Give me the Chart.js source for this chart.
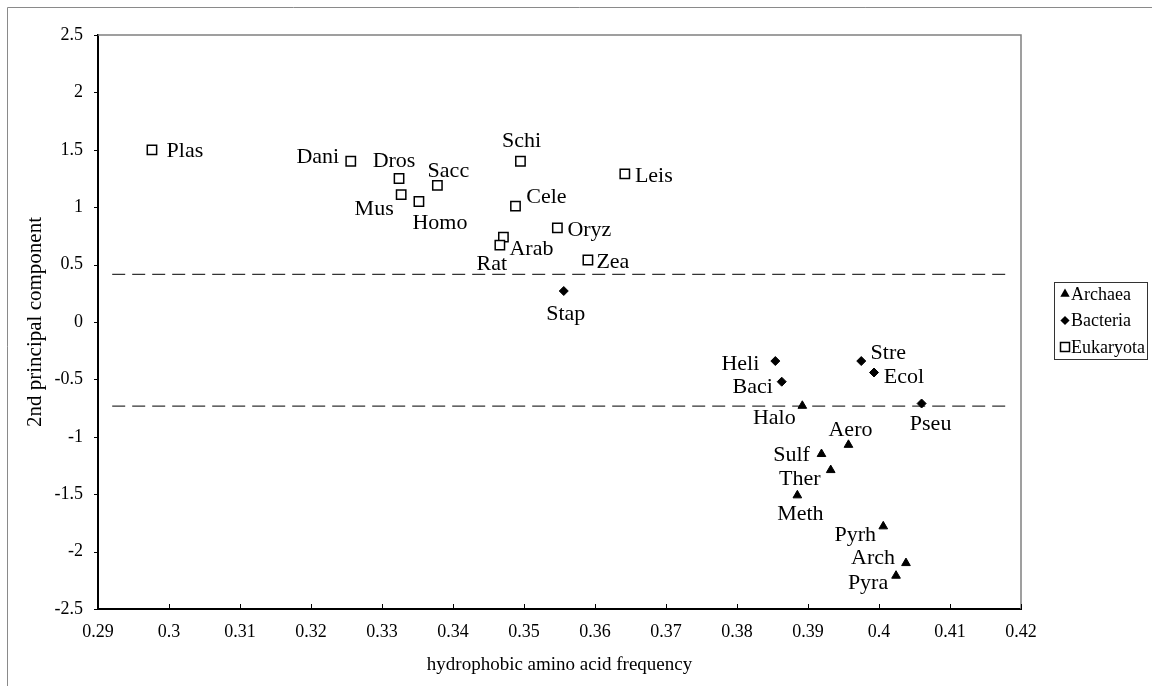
<!DOCTYPE html>
<html>
<head>
<meta charset="utf-8">
<title>Hydrophobic amino acid frequency vs 2nd principal component</title>
<script src="https://cdn.jsdelivr.net/npm/chart.js@4.4.1/dist/chart.umd.min.js"></script>
<style>
  html, body { margin: 0; padding: 0; background: #fff; }
  #wrap { width: 1152px; height: 686px; }
</style>
</head>
<body>
<div id="wrap"><canvas id="chart" width="1152" height="686"></canvas></div>
<script>
// ---- data -------------------------------------------------------------
const archaeaNames = ['Halo', 'Aero', 'Sulf', 'Ther', 'Meth', 'Pyrh', 'Arch', 'Pyra'];
const archaeaX = [0.3892, 0.3957, 0.3919, 0.3932, 0.3885, 0.4006, 0.4038, 0.4024];
const archaeaY = [-0.73, -1.07, -1.15, -1.29, -1.51, -1.78, -2.10, -2.21];

const bacteriaNames = ['Stap', 'Heli', 'Baci', 'Stre', 'Ecol', 'Pseu'];
const bacteriaX = [0.3556, 0.3854, 0.3863, 0.3975, 0.3993, 0.4060];
const bacteriaY = [0.27, -0.34, -0.52, -0.34, -0.44, -0.71];

const eukaryotaNames = ['Plas', 'Dani', 'Dros', 'Mus', 'Homo', 'Sacc', 'Schi', 'Cele', 'Leis', 'Oryz', 'Arab', 'Rat', 'Zea'];
const eukaryotaX = [0.2976, 0.3256, 0.3324, 0.3327, 0.3352, 0.3378, 0.3495, 0.3488, 0.3642, 0.3547, 0.3471, 0.3466, 0.3590];
const eukaryotaY = [1.50, 1.40, 1.25, 1.11, 1.05, 1.19, 1.40, 1.01, 1.29, 0.82, 0.74, 0.67, 0.54];

// dashed separator lines (x range and level)
const separatorX = [0.292, 0.418];
const upperSeparatorY = 0.415;
const lowerSeparatorY = -0.732;

// axis ranges and steps
const xMin = 0.29, xMax = 0.42, xStep = 0.01;
const yMin = -2.5, yMax = 2.5, yStep = 0.5;

// ---- label placement (offset of text centre from the marker, px) -------
const labelOffset = {
  Plas: [33, 0],   Dani: [-33, -6], Dros: [-5, -19], Mus: [-27, 13],
  Homo: [21, 20],  Sacc: [11, -16], Schi: [1, -22],  Cele: [31, -10],
  Leis: [29, 1],   Oryz: [32, 1],   Arab: [28, 11],  Rat: [-8, 18],
  Zea: [25, 1],    Stap: [2, 22],   Heli: [-35, 2],  Baci: [-29, 4],
  Stre: [27, -9],  Ecol: [30, 3],   Pseu: [9, 19],   Halo: [-28, 11],
  Aero: [2, -16],  Sulf: [-30, 0],  Ther: [-31, 8],  Meth: [3, 17],
  Pyrh: [-28, 7],  Arch: [-33, -6], Pyra: [-28, 6]
};

const SERIF = '"Liberation Serif", "Times New Roman", Times, serif';

function points(xs, ys, names) {
  return xs.map((x, i) => ({ x: x, y: ys[i], name: names[i] }));
}

function fmt(v) {
  return String(+Number(v).toFixed(2));
}

// ---- marker drawing for the legend ------------------------------------
function drawMarker(ctx, kind, x, y) {
  ctx.save();
  ctx.lineWidth = 1.2;
  ctx.strokeStyle = '#000';
  ctx.fillStyle = '#000';
  ctx.beginPath();
  if (kind === 'triangle') {
    const r = 5.4;
    ctx.moveTo(x, y - r);
    ctx.lineTo(x + r * Math.sin(2 * Math.PI / 3), y + r / 2);
    ctx.lineTo(x - r * Math.sin(2 * Math.PI / 3), y + r / 2);
    ctx.closePath();
    ctx.fill();
  } else if (kind === 'diamond') {
    const r = 4.6;
    ctx.moveTo(x, y - r);
    ctx.lineTo(x + r, y);
    ctx.lineTo(x, y + r);
    ctx.lineTo(x - r, y);
    ctx.closePath();
    ctx.fill();
  } else {
    ctx.fillStyle = '#fff';
    ctx.lineWidth = 1.5;
    ctx.rect(x - 4.5, y - 4.5, 9, 9);
    ctx.fill();
    ctx.stroke();
  }
  ctx.restore();
}

// ---- frame, tick marks, point labels and legend ------------------------
const decorations = {
  id: 'decorations',
  beforeDatasetsDraw(chart) {
    const { ctx, chartArea: a } = chart;
    ctx.save();
    // outer chart frame
    ctx.strokeStyle = '#8a8a8a';
    ctx.lineWidth = 1;
    ctx.beginPath();
    ctx.moveTo(7.5, 686);
    ctx.lineTo(7.5, 7.5);
    ctx.lineTo(1152, 7.5);
    ctx.stroke();
    // plot area border (top and right)
    ctx.strokeStyle = '#808080';
    ctx.lineWidth = 1.5;
    ctx.beginPath();
    ctx.moveTo(a.left, a.top);
    ctx.lineTo(a.right, a.top);
    ctx.lineTo(a.right, a.bottom);
    ctx.stroke();
    // tick marks: x inward, y outward
    const xs = chart.scales.x, ys = chart.scales.y;
    ctx.strokeStyle = '#000';
    ctx.lineWidth = 1;
    ctx.beginPath();
    xs.ticks.forEach(t => {
      const px = Math.round(xs.getPixelForValue(t.value)) + 0.5;
      ctx.moveTo(px, a.bottom);
      ctx.lineTo(px, a.bottom - 5);
    });
    ys.ticks.forEach(t => {
      const py = Math.round(ys.getPixelForValue(t.value)) + 0.5;
      ctx.moveTo(a.left, py);
      ctx.lineTo(a.left - 4, py);
    });
    ctx.stroke();
    ctx.restore();
  },
  afterDatasetsDraw(chart) {
    const ctx = chart.ctx;
    ctx.save();
    ctx.font = '22px ' + SERIF;
    ctx.fillStyle = '#000';
    ctx.textAlign = 'center';
    ctx.textBaseline = 'alphabetic';
    const capHalf = 0.662 * 22 / 2;
    for (let d = 0; d < 3; d++) {
      const meta = chart.getDatasetMeta(d);
      const ds = chart.data.datasets[d];
      meta.data.forEach((el, i) => {
        const name = ds.data[i].name;
        const off = labelOffset[name] || [0, -18];
        ctx.fillText(name, el.x + off[0], el.y + off[1] + capHalf);
      });
    }
    ctx.restore();
  },
  afterDraw(chart) {
    const ctx = chart.ctx;
    ctx.save();
    // legend box
    ctx.strokeStyle = '#333';
    ctx.lineWidth = 1;
    ctx.strokeRect(1054.5, 282.5, 93, 77);
    const entries = [
      { kind: 'triangle', text: chart.data.datasets[0].label, y: 294 },
      { kind: 'diamond', text: chart.data.datasets[1].label, y: 320.5 },
      { kind: 'square', text: chart.data.datasets[2].label, y: 347 }
    ];
    ctx.font = '18px ' + SERIF;
    ctx.fillStyle = '#000';
    ctx.textAlign = 'left';
    ctx.textBaseline = 'alphabetic';
    entries.forEach(e => {
      drawMarker(ctx, e.kind, 1065, e.y);
      ctx.fillStyle = '#000';
      ctx.fillText(e.text, 1071, e.y + 0.662 * 18 / 2);
    });
    ctx.restore();
  }
};

const dashStyle = {
  type: 'line',
  borderColor: '#333',
  borderWidth: 1.3,
  borderDash: [13, 7],
  pointRadius: 0,
  fill: false,
  showLine: true
};

new Chart(document.getElementById('chart'), {
  type: 'scatter',
  data: {
    datasets: [
      {
        label: 'Archaea',
        data: points(archaeaX, archaeaY, archaeaNames),
        pointStyle: 'triangle',
        pointRadius: 5,
        backgroundColor: '#000',
        borderColor: '#000',
        borderWidth: 1
      },
      {
        label: 'Bacteria',
        data: points(bacteriaX, bacteriaY, bacteriaNames),
        pointStyle: 'rectRot',
        pointRadius: 4.5,
        backgroundColor: '#000',
        borderColor: '#000',
        borderWidth: 1
      },
      {
        label: 'Eukaryota',
        data: points(eukaryotaX, eukaryotaY, eukaryotaNames),
        pointStyle: 'rect',
        pointRadius: 6.6,
        backgroundColor: '#fff',
        borderColor: '#000',
        borderWidth: 1.5
      },
      Object.assign({
        label: 'upper separator',
        data: separatorX.map(x => ({ x: x, y: upperSeparatorY }))
      }, dashStyle),
      Object.assign({
        label: 'lower separator',
        data: separatorX.map(x => ({ x: x, y: lowerSeparatorY }))
      }, dashStyle)
    ]
  },
  options: {
    responsive: false,
    animation: false,
    events: [],
    layout: { padding: { left: 0, top: 35, right: 131, bottom: 0 } },
    plugins: {
      legend: { display: false },
      tooltip: { enabled: false }
    },
    scales: {
      x: {
        type: 'linear',
        min: xMin,
        max: xMax,
        afterFit(s) { s.height = 77; },
        grid: { display: false, drawTicks: false },
        border: { display: true, color: '#000', width: 2 },
        ticks: {
          stepSize: xStep,
          padding: 12,
          color: '#000',
          font: { family: SERIF, size: 18 },
          maxRotation: 0,
          autoSkip: false,
          callback: v => fmt(v)
        },
        title: {
          display: true,
          text: 'hydrophobic amino acid frequency',
          color: '#000',
          font: { family: SERIF, size: 19 },
          padding: { top: 0, bottom: 10 }
        }
      },
      y: {
        type: 'linear',
        min: yMin,
        max: yMax,
        afterFit(s) { s.width = 98; },
        grid: { display: false, drawTicks: false },
        border: { display: true, color: '#000', width: 2 },
        ticks: {
          stepSize: yStep,
          padding: 15,
          color: '#000',
          font: { family: SERIF, size: 18 },
          autoSkip: false,
          callback: v => fmt(v)
        },
        title: {
          display: true,
          text: '2nd principal component',
          color: '#000',
          font: { family: SERIF, size: 21 },
          padding: { top: 23, bottom: 0 }
        }
      }
    }
  },
  plugins: [decorations]
});
</script>
</body>
</html>
